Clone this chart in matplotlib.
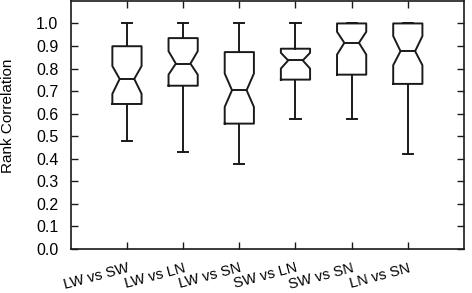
import matplotlib
matplotlib.use("Agg")
import matplotlib.pyplot as plt

plt.rcParams["font.family"] = ["Liberation Sans", "DejaVu Sans"]
plt.rcParams["font.size"] = 11

labels = ["LW vs SW", "LW vs LN", "LW vs SN", "SW vs LN", "SW vs SN", "LN vs SN"]
whislo = [0.477, 0.430, 0.376, 0.576, 0.578, 0.422]
q1 = [0.643, 0.724, 0.556, 0.751, 0.773, 0.732]
med = [0.754, 0.822, 0.704, 0.836, 0.914, 0.877]
q3 = [0.899, 0.935, 0.873, 0.888, 1.000, 1.000]
whishi = [1.000, 1.000, 1.000, 1.000, 1.000, 1.000]
cilo = [0.688, 0.773, 0.630, 0.800, 0.862, 0.815]
cihi = [0.811, 0.877, 0.778, 0.870, 0.963, 0.944]

stats = []
for i in range(len(labels)):
    stats.append(dict(label=labels[i], whislo=whislo[i], q1=q1[i], med=med[i],
                      q3=q3[i], whishi=whishi[i], cilo=cilo[i], cihi=cihi[i],
                      fliers=[]))

fig = plt.figure(figsize=(4.72, 2.93), dpi=100)
ax = fig.add_axes([0.150, 0.150, 0.833, 0.847])

lw = 1.4
ax.bxp(stats, positions=range(1, 7), widths=0.52, capwidths=0.18,
       shownotches=True, showfliers=False, patch_artist=False,
       boxprops=dict(color="#1a1a1a", linewidth=lw),
       whiskerprops=dict(color="#1a1a1a", linewidth=lw),
       capprops=dict(color="#1a1a1a", linewidth=lw),
       medianprops=dict(color="#1a1a1a", linewidth=lw))

ax.set_xlim(0, 7)
ax.set_ylim(0, 1.1)
ax.set_yticks([i / 10 for i in range(11)])
ax.set_yticklabels(["%.1f" % (i / 10) for i in range(11)])
ax.set_xticks(range(1, 7))
ax.set_xticklabels(labels, rotation=15, ha="right", va="top",
                   rotation_mode="anchor")
ax.tick_params(direction="in", length=5, width=1.0, top=True, right=True,
               color="#1a1a1a")
ax.tick_params(axis="y", labelsize=11.5, pad=9)
ax.tick_params(axis="x", labelsize=10.5, pad=8.5)
for s in ax.spines.values():
    s.set_linewidth(1.2)
    s.set_color("#1a1a1a")
ax.set_ylabel("Rank Correlation", fontsize=11)
ax.yaxis.set_label_coords(-0.142, 0.536)

fig.savefig("out.png", dpi=100)
